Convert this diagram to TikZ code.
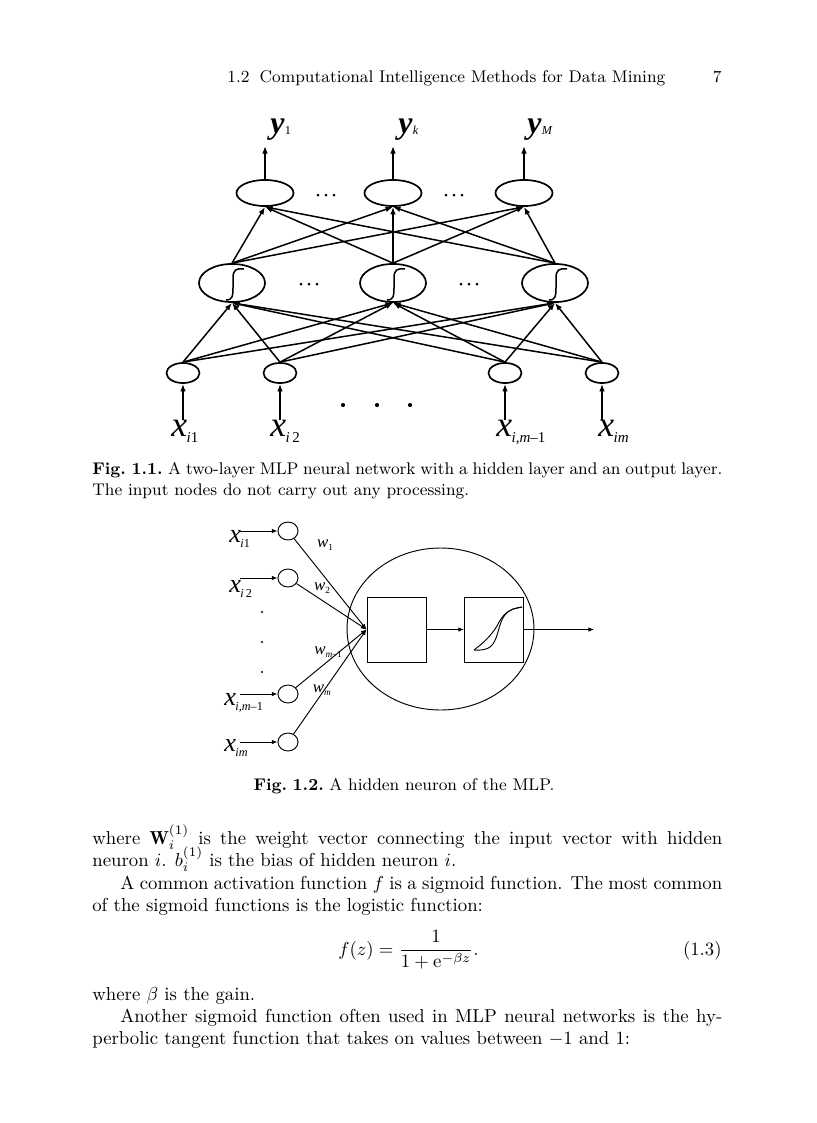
\documentclass[tikz,border=0pt]{standalone}
\usepackage{amsmath}
\usepackage{fontspec}
\usetikzlibrary{shapes.geometric,arrows.meta}
\newfontfamily\figfont{Liberation Serif}
\newcommand\bodyfnt{\fontsize{10}{12}\selectfont}
\newcommand\capfnt{\fontsize{9}{11}\selectfont}
\newcommand\mdash{\char"2013\relax}
% figure 1 labels
\newcommand\xlabA[1]{{\figfont\itshape\fontsize{19}{19}\selectfont x\kern-0.3pt\raisebox{-3.5pt}{\fontsize{8}{8}\selectfont #1}}}
\newcommand\ylabA[1]{{\figfont\bfseries\itshape\fontsize{17}{17}\selectfont y\kern0.2pt\raisebox{-1pt}{\mdseries\fontsize{6.5}{6.5}\selectfont #1}}}
% figure 2 labels
\newcommand\xlabB[1]{{\figfont\itshape\fontsize{14}{14}\selectfont x\kern-0.3pt\raisebox{-3pt}{\fontsize{6.5}{6.5}\selectfont #1}}}
\newcommand\wlab[1]{{\figfont\itshape\fontsize{9}{9}\selectfont w\raisebox{-1.5pt}{\fontsize{5}{5}\selectfont #1}}}
\begin{document}
\begin{tikzpicture}[x=0.53333pt,y=-0.53333pt,
  neuron/.style={draw,ellipse,inner sep=0pt,line width=0.9pt},
  outn/.style={neuron,minimum width=30.4pt,minimum height=13.9pt},
  hidn/.style={neuron,minimum width=35.2pt,minimum height=20.3pt},
  inn/.style={neuron,minimum width=17.6pt,minimum height=10.7pt},
  conn/.style={line width=0.8pt,-{Latex[length=4pt,width=3pt]}},
  sig/.style={line width=0.8pt},
  fdot/.style={fill=black,circle,inner sep=0pt,minimum size=1.6pt},
  sdot/.style={fill=black,circle,inner sep=0pt,minimum size=1.2pt},
  cin/.style={draw,ellipse,inner sep=0pt,line width=0.5pt,minimum width=10.7pt,minimum height=9.6pt},
  thin/.style={line width=0.5pt},
  tconn/.style={line width=0.5pt,-{Latex[length=3pt,width=2.4pt]}},
  boxn/.style={draw,rectangle,inner sep=0pt,line width=0.5pt,minimum width=31.5pt,minimum height=34.7pt},
  txt/.style={inner sep=0pt,anchor=base west}]
\useasboundingbox (0,0) rectangle (816,1123);
\fill[white] (0,0) rectangle (816,1123);

% ---------- running head ----------
\node[txt] (head) at (227,82) {\capfnt 1.2\hspace{0.6em}Computational Intelligence Methods for Data Mining};
\node[inner sep=0pt,anchor=base east] (pno) at (722,82) {\capfnt 7};

% ---------- Figure 1 ----------
\node[outn] (o1) at (265,193) {};
\node[outn] (o2) at (393,193) {};
\node[outn] (o3) at (524,193) {};
\node[hidn] (h1) at (232,283) {};
\node[hidn] (h2) at (393,283) {};
\node[hidn] (h3) at (555,283) {};
\node[inn] (i1) at (183,373) {};
\node[inn] (i2) at (280,373) {};
\node[inn] (i3) at (505,373) {};
\node[inn] (i4) at (602,373) {};

\foreach \a in {i1,i2,i3,i4}
  \foreach \b in {h1,h2,h3}
    \draw[conn] (\a.north) -- (\b.south);
\foreach \a in {h1,h2,h3}
  \foreach \b in {o1,o2,o3}
    \draw[conn] (\a.north) -- (\b.south);

% sigmoid marks in hidden neurons
\foreach \h in {h1,h2,h3}{
  \draw[sig] ([shift={(-6,17)}]\h.center) .. controls ([shift={(1,17)}]\h.center) and ([shift={(1,12)}]\h.center) .. ([shift={(1,5)}]\h.center)
     -- ([shift={(1,-5)}]\h.center) .. controls ([shift={(1,-13)}]\h.center) and ([shift={(4,-15)}]\h.center) .. ([shift={(12,-14)}]\h.center);
}

% output arrows and labels
\coordinate (t1) at (265,146);
\coordinate (t2) at (393,146);
\coordinate (t3) at (524,146);
\draw[conn] (o1.north) -- (t1);
\draw[conn] (o2.north) -- (t2);
\draw[conn] (o3.north) -- (t3);
\node[txt] (y1) at (270,133) {\ylabA{\upshape 1}};
\node[txt] (yk) at (398,133) {\ylabA{k}};
\node[txt] (yM) at (527,133) {\ylabA{M}};

% input arrows and labels
\coordinate (b1) at (183,420);
\coordinate (b2) at (280,420);
\coordinate (b3) at (505,420);
\coordinate (b4) at (602,420);
\draw[conn] (b1) -- (i1.south);
\draw[conn] (b2) -- (i2.south);
\draw[conn] (b3) -- (i3.south);
\draw[conn] (b4) -- (i4.south);
\node[txt] (x1) at (171,436) {\xlabA{i\upshape 1}};
\node[txt] (x2) at (270,436) {\xlabA{i\,\upshape 2}};
\node[txt] (x3) at (496,436) {\xlabA{i\upshape ,\itshape m\upshape\mdash 1}};
\node[txt] (x4) at (598,436) {\xlabA{im}};

% ellipsis dots
\foreach \x in {318,326,334, 446,454,462} \node[fdot] at (\x,195) {};
\foreach \x in {301,309,317, 461,469,477} \node[fdot] at (\x,284) {};
\foreach \x in {343,377,410} \node[fdot,minimum size=2.2pt] at (\x,405) {};

% ---------- Caption 1 ----------
\node[txt] (cap1a) at (92,474) {\capfnt\makebox[336pt][s]{\textbf{Fig.\hspace{0.33em}1.1.}\hspace{0.33em}A two-layer MLP neural network with a hidden layer and an output layer.}};
\node[txt] (cap1b) at (92,495) {\capfnt The input nodes do not carry out any processing.};

% ---------- Figure 2 ----------
\node[draw,ellipse,inner sep=0pt,line width=0.5pt,minimum width=99.7pt,minimum height=86.4pt] (E) at (440.5,629) {};
\node[boxn] (B1) at (396.5,629.5) {};
\node[boxn] (B2) at (494,629.5) {};
\node[cin] (c1) at (288,531) {};
\node[cin] (c2) at (288,578) {};
\node[cin] (c3) at (288,694) {};
\node[cin] (c4) at (288,742) {};

\coordinate (a1) at (240,531);
\coordinate (a2) at (240,578);
\coordinate (a3) at (240,694);
\coordinate (a4) at (240,742);
\draw[tconn] (a1) -- (c1);
\draw[tconn] (a2) -- (c2);
\draw[tconn] (a3) -- (c3);
\draw[tconn] (a4) -- (c4);

\foreach \c in {c1,c2,c3,c4} \draw[tconn] (\c) -- (B1.west);
\draw[tconn] (B1.east) -- (B2.west);
\coordinate (out) at (594,629.5);
\draw[tconn] (B2.east) -- (out);

% sigmoid loop in B2
\draw[thin] (474,650) .. controls (486,641) and (492,634) .. (497,626) .. controls (503,614) and (508,609) .. (522,607);
\draw[thin] (474,650) .. controls (490,651) and (494,646) .. (498,632) .. controls (502,616) and (506,612) .. (513,609) -- (522,607);

\node[txt] (xb1) at (229,542) {\xlabB{i\upshape 1}};
\node[txt] (xb2) at (229,592) {\xlabB{i\,\upshape 2}};
\node[txt] (xb3) at (224,705) {\xlabB{i\upshape ,\itshape m\upshape\mdash 1}};
\node[txt] (xb4) at (224,751) {\xlabB{im}};

\node (w1) at (325,545) {\wlab{\upshape 1}};
\node (w2) at (322,588) {\wlab{\upshape 2}};
\node (wm1) at (328,652) {\wlab{m\upshape\mdash 1}};
\node (wm) at (322,690) {\wlab{m}};

\foreach \y in {612,642,672} \node[sdot] at (262,\y) {};

% ---------- Caption 2 ----------
\node[inner sep=0pt,anchor=base] (cap2) at (404,790) {\capfnt\textbf{Fig.\hspace{0.33em}1.2.}\hspace{0.33em}A hidden neuron of the MLP.};

% ---------- Body text ----------
\node[txt] (l1) at (92,844) {\bodyfnt\makebox[336pt][s]{where $\mathbf{W}_i^{(1)}$ is the weight vector connecting the input vector with hidden}};
\node[txt] (l2) at (92,866) {\bodyfnt neuron $i$. $b_i^{(1)}$ is the bias of hidden neuron $i$.};
\node[txt] (l3) at (120,889) {\bodyfnt\makebox[321pt][s]{A common activation function $f$ is a sigmoid function. The most common}};
\node[txt] (l4) at (92,911) {\bodyfnt of the sigmoid functions is the logistic function:};
\node[txt] (eq) at (338,955) {\bodyfnt $\displaystyle f(z)=\frac{1}{1+\mathrm{e}^{-\beta z}}.$};
\node[inner sep=0pt,anchor=base east] (eqn) at (722,955) {\bodyfnt (1.3)};
\node[txt] (l5) at (92,1000) {\bodyfnt where $\beta$ is the gain.};
\node[txt] (l6) at (120,1022) {\bodyfnt\makebox[321pt][s]{Another sigmoid function often used in MLP neural networks is the hy-}};
\node[txt] (l7) at (92,1044) {\bodyfnt perbolic tangent function that takes on values between $-1$ and 1:};
\end{tikzpicture}
\end{document}
